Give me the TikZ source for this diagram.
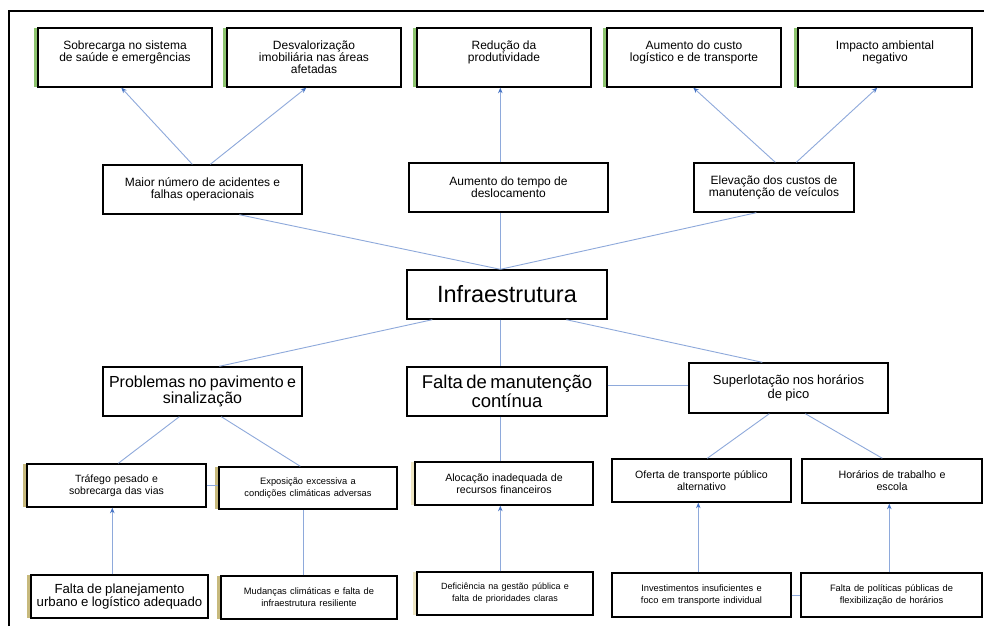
\documentclass[tikz,border=0pt]{standalone}
\usepackage{fontspec}
\setmainfont{Liberation Sans}
\usetikzlibrary{arrows.meta}
\definecolor{lineblue}{HTML}{8EA9DB}
\definecolor{tipblue}{HTML}{4472C4}
\definecolor{bargreen}{HTML}{8DC46E}
\definecolor{bartan}{HTML}{C7B97C}
\definecolor{barpale}{HTML}{EEE6C2}
\newcommand\mybox[8]{% name,x1,y1,x2,y2,style,font,text
  \pgfmathsetmacro\bxw{#4-#2}\pgfmathsetmacro\bxh{#5-#3}%
  \node[boxstyle,#6,minimum width=\bxw pt,minimum height=\bxh pt,text width=\bxw pt]
    (#1) at ({(#2+#4)/2},{(#3+#5)/2}) {#7#8};}
\newcommand\mybar[4]{\fill[#1] ({#2-4},#3) rectangle ({#2-1},#4);}
\begin{document}
\begin{tikzpicture}[x=1pt,y=-1pt,
  boxstyle/.style={draw=black,line width=1.4pt,fill=white,inner sep=0pt,align=center},
  topbox/.style={text height=22pt,text depth=37pt},
  conn/.style={draw=lineblue,line width=0.9pt},
  arr/.style={-{Stealth[length=5.5pt,width=4.5pt,color=tipblue]}}]
\useasboundingbox (0,0) rectangle (984,626);
\fill[white] (0,0) rectangle (984,626);
\draw[line width=1.4pt] (9,626) -- (9,11) -- (984,11);
% bars
\mybar{bargreen}{38}{28}{87}
\mybar{bargreen}{227}{28}{87}
\mybar{bargreen}{417}{28}{87}
\mybar{bargreen}{607}{28}{87}
\mybar{bargreen}{798}{28}{87}
\mybar{bartan}{27}{464}{507}
\mybar{bartan}{219}{467}{509}
\mybar{barpale}{415}{462}{505}
\mybar{bartan}{31}{575}{618}
\mybar{bartan}{221}{576}{619}
\mybar{barpale}{417}{572}{615}
% top row
\mybox{t1}{38}{28}{212}{87}{topbox}{\fontsize{12}{11.8}\selectfont}{Sobrecarga no sistema\\de saúde e emergências}
\mybox{t2}{227}{28}{401}{87}{topbox}{\fontsize{12}{11.8}\selectfont}{Desvalorização\\imobiliária nas áreas\\afetadas}
\mybox{t3}{417}{28}{591}{87}{topbox}{\fontsize{12}{11.8}\selectfont}{Redução da\\produtividade}
\mybox{t4}{607}{28}{781}{87}{topbox}{\fontsize{12}{11.8}\selectfont}{Aumento do custo\\logístico e de transporte}
\mybox{t5}{798}{28}{972}{87}{topbox}{\fontsize{12}{11.8}\selectfont}{Impacto ambiental\\negativo}
% middle row
\mybox{m1}{103}{165}{302}{214}{}{\fontsize{12}{11.8}\selectfont}{Maior número de acidentes e\\falhas operacionais}
\mybox{m2}{409}{163}{608}{212}{}{\fontsize{12}{11.8}\selectfont}{Aumento do tempo de\\deslocamento}
\mybox{m3}{694}{163}{854}{212}{}{\fontsize{12}{11.8}\selectfont}{Elevação dos custos de\\manutenção de veículos}
% centre
\mybox{inf}{407}{270}{607}{319}{}{\fontsize{23.5}{24}\selectfont}{Infraestrutura}
% level 2
\mybox{p1}{103}{367}{302}{416}{}{\fontsize{16}{16}\selectfont}{Problemas no pavimento e\\sinalização}
\mybox{p2}{407}{367}{607}{416}{}{\fontsize{18.5}{18.3}\selectfont}{Falta de manutenção\\contínua}
\mybox{p3}{689}{363}{888}{413}{}{\fontsize{13}{14.5}\selectfont}{Superlotação nos horários\\de pico}
% level 3
\mybox{b1}{27}{464}{206}{507}{}{\fontsize{10.5}{11}\selectfont}{Tráfego pesado e\\sobrecarga das vias}
\mybox{b2}{219}{467}{397}{509}{}{\fontsize{9.3}{10}\selectfont}{Exposição excessiva a\\condições climáticas adversas}
\mybox{b3}{415}{462}{593}{505}{}{\fontsize{10.6}{11.5}\selectfont}{Alocação inadequada de\\recursos financeiros}
\mybox{b4}{612}{459}{791}{502}{}{\fontsize{10.6}{10.5}\selectfont}{Oferta de transporte público\\alternativo}
\mybox{b5}{802}{459}{982}{503}{}{\fontsize{10.7}{11.5}\selectfont}{Horários de trabalho e\\escola}
% level 4
\mybox{c1}{31}{575}{208}{618}{}{\fontsize{13.2}{14}\selectfont}{Falta de planejamento\\urbano e logístico adequado}
\mybox{c2}{221}{576}{397}{619}{}{\fontsize{9.3}{10}\selectfont}{Mudanças climáticas e falta de\\infraestrutura resiliente}
\mybox{c3}{417}{572}{593}{615}{}{\fontsize{9}{10}\selectfont}{Deficiência na gestão pública e\\falta de prioridades claras}
\mybox{c4}{612}{573}{791}{617}{}{\fontsize{9.3}{10.7}\selectfont}{Investimentos insuficientes e\\foco em transporte individual}
\mybox{c5}{801}{573}{982}{617}{}{\fontsize{9.3}{10.7}\selectfont}{Falta de políticas públicas de\\flexibilização de horários}
% connectors: effects
\draw[conn,arr] ([xshift=90pt]m1.north west) -- ([xshift=84pt]t1.south west);
\draw[conn,arr] ([xshift=108pt]m1.north west) -- ([xshift=80pt]t2.south west);
\draw[conn,arr] ([xshift=92pt]m2.north west) -- ([xshift=84pt]t3.south west);
\draw[conn,arr] ([xshift=82pt]m3.north west) -- ([xshift=87pt]t4.south west);
\draw[conn,arr] ([xshift=103pt]m3.north west) -- ([xshift=80pt]t5.south west);
\draw[conn] ([xshift=94pt]inf.north west) -- ([xshift=137pt]m1.south west);
\draw[conn] ([xshift=94pt]inf.north west) -- ([xshift=92pt]m2.south west);
\draw[conn] ([xshift=94pt]inf.north west) -- ([xshift=63pt]m3.south west);
% connectors: causes
\draw[conn] ([xshift=26pt]inf.south west) -- ([xshift=117pt]p1.north west);
\draw[conn] ([xshift=94pt]inf.south west) -- ([xshift=94pt]p2.north west);
\draw[conn] ([xshift=160pt]inf.south west) -- ([xshift=74pt]p3.north west);
\draw[conn] ([yshift=6.5pt]p2.east) -- ([yshift=3pt]p3.west);
\draw[conn] ([xshift=77pt]p1.south west) -- ([xshift=92pt]b1.north west);
\draw[conn] ([xshift=119pt]p1.south west) -- ([xshift=82pt]b2.north west);
\draw[conn] ([xshift=94pt]p2.south west) -- ([xshift=86pt]b3.north west);
\draw[conn] ([xshift=81pt]p3.south west) -- ([xshift=96pt]b4.north west);
\draw[conn] ([xshift=117pt]p3.south west) -- ([xshift=81pt]b5.north west);
\draw[conn] ([yshift=0.5pt]b1.east) -- ([yshift=3pt]b2.west);
\draw[conn,arr] ([xshift=82pt]c1.north west) -- ([xshift=86pt]b1.south west);
\draw[conn] ([xshift=83pt]c2.north west) -- ([xshift=85pt]b2.south west);
\draw[conn,arr] ([xshift=84pt]c3.north west) -- ([xshift=86pt]b3.south west);
\draw[conn,arr] ([xshift=87pt]c4.north west) -- ([xshift=87pt]b4.south west);
\draw[conn,arr] ([xshift=89pt]c5.north west) -- ([xshift=88pt]b5.south west);
\draw[conn] (c4.east) -- (c5.west);
\end{tikzpicture}
\end{document}
